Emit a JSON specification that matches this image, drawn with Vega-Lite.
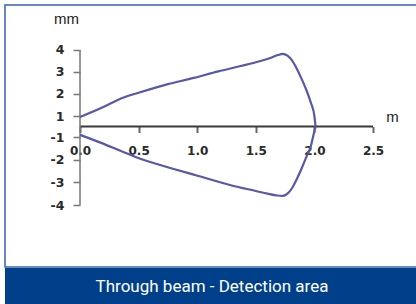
{
  "$schema": "https://vega.github.io/schema/vega-lite/v6.json",
  "background": "white",
  "padding": {"left": 4, "top": 4, "right": 0, "bottom": 0},
  "spacing": 0,
  "config": {"view": {"stroke": null}, "axis": {"grid": false}},
  "vconcat": [
    {
      "width": 414,
      "height": 262,
      "view": {"stroke": "#2f64b5", "strokeWidth": 1.5, "fill": "white"},
      "encoding": {
        "x": {
          "field": "x", "type": "quantitative",
          "scale": {"domain": [-0.64, 2.8925], "nice": false, "zero": false},
          "axis": {
            "title": "m", "orient": "bottom", "offset": -140.5, "domain": false,
            "values": [0, 0.5, 1, 1.5, 2, 2.5], "format": ".1f",
            "tickSize": 6, "tickWidth": 2, "tickColor": "#666",
            "labelPadding": 13, "labelFont": "DejaVu Sans", "labelFontWeight": "bold",
            "labelFontSize": 12, "labelColor": "#2a2a2a",
            "labelOverlap": false, "labelBound": false, "labelFlush": false,
            "titleX": 387, "titleY": -10.5, "titleAlign": "center", "titleBaseline": "middle",
            "titleFont": "Liberation Sans", "titleFontSize": 15, "titleFontWeight": "normal", "titleColor": "#222",
            "grid": false
          }
        },
        "y": {
          "field": "y", "type": "quantitative",
          "scale": {"type": "linear", "domain": [-6.735, -1, 1, 6.045], "range": [262, 132, 111, 0], "nice": false, "zero": false},
          "axis": {
            "title": "mm", "orient": "left", "offset": -75, "domain": false,
            "values": [-4, -3, -2, -1, 1, 2, 3, 4], "labelExpr": "'' + datum.value",
            "tickSize": 7, "tickWidth": 1.5, "tickColor": "#777",
            "labelPadding": 9, "labelFont": "DejaVu Sans", "labelFontWeight": "bold",
            "labelFontSize": 12.5, "labelColor": "#2a2a2a",
            "labelOverlap": false, "labelBound": false, "labelFlush": false,
            "titleAngle": 0, "titleX": -14, "titleY": 13, "titleAlign": "center", "titleBaseline": "middle",
            "titleFont": "Liberation Sans", "titleFontSize": 15, "titleFontWeight": "normal", "titleColor": "#222",
            "grid": false
          }
        }
      },
      "layer": [
        {
          "data": {"values": [{"x": 0, "x2": 2.5, "y": 0}]},
          "mark": {"type": "rule", "color": "#3a3a3a", "strokeWidth": 2},
          "encoding": {"x2": {"field": "x2"}}
        },
        {
          "data": {"values": [{"x": 0, "y": -4, "y2": 4}]},
          "mark": {"type": "rule", "color": "#777777", "strokeWidth": 1.5},
          "encoding": {"y2": {"field": "y2"}}
        },
        {
          "data": {"values": [
            {"side": "upper", "i": 0, "x": 0, "y": 0.9},
            {"side": "upper", "i": 1, "x": 0.18, "y": 1.36},
            {"side": "upper", "i": 2, "x": 0.35, "y": 1.8},
            {"side": "upper", "i": 3, "x": 0.52, "y": 2.09},
            {"side": "upper", "i": 4, "x": 0.75, "y": 2.45},
            {"side": "upper", "i": 5, "x": 0.97, "y": 2.73},
            {"side": "upper", "i": 6, "x": 1.18, "y": 3.03},
            {"side": "upper", "i": 7, "x": 1.37, "y": 3.27},
            {"side": "upper", "i": 8, "x": 1.54, "y": 3.5},
            {"side": "upper", "i": 9, "x": 1.63, "y": 3.65},
            {"side": "upper", "i": 10, "x": 1.69, "y": 3.77},
            {"side": "upper", "i": 11, "x": 1.73, "y": 3.82},
            {"side": "upper", "i": 12, "x": 1.77, "y": 3.74},
            {"side": "upper", "i": 13, "x": 1.81, "y": 3.52},
            {"side": "upper", "i": 14, "x": 1.85, "y": 3.15},
            {"side": "upper", "i": 15, "x": 1.89, "y": 2.7},
            {"side": "upper", "i": 16, "x": 1.93, "y": 2.2},
            {"side": "upper", "i": 17, "x": 1.97, "y": 1.6},
            {"side": "upper", "i": 18, "x": 2.0, "y": 1.0},
            {"side": "upper", "i": 19, "x": 2.01, "y": 0},
            {"side": "lower", "i": 0, "x": 0, "y": -0.8},
            {"side": "lower", "i": 1, "x": 0.18, "y": -1.26},
            {"side": "lower", "i": 2, "x": 0.35, "y": -1.62},
            {"side": "lower", "i": 3, "x": 0.52, "y": -1.97},
            {"side": "lower", "i": 4, "x": 0.8, "y": -2.41},
            {"side": "lower", "i": 5, "x": 1.01, "y": -2.72},
            {"side": "lower", "i": 6, "x": 1.31, "y": -3.16},
            {"side": "lower", "i": 7, "x": 1.5, "y": -3.38},
            {"side": "lower", "i": 8, "x": 1.6, "y": -3.5},
            {"side": "lower", "i": 9, "x": 1.68, "y": -3.58},
            {"side": "lower", "i": 10, "x": 1.73, "y": -3.6},
            {"side": "lower", "i": 11, "x": 1.77, "y": -3.5},
            {"side": "lower", "i": 12, "x": 1.81, "y": -3.25},
            {"side": "lower", "i": 13, "x": 1.85, "y": -2.85},
            {"side": "lower", "i": 14, "x": 1.89, "y": -2.4},
            {"side": "lower", "i": 15, "x": 1.93, "y": -1.9},
            {"side": "lower", "i": 16, "x": 1.97, "y": -1.4},
            {"side": "lower", "i": 17, "x": 1.99, "y": -0.9},
            {"side": "lower", "i": 18, "x": 2.01, "y": 0}
          ]},
          "mark": {"type": "line", "color": "#5658a8", "strokeWidth": 2.2, "strokeJoin": "round", "interpolate": "monotone"},
          "encoding": {"detail": {"field": "side"}, "order": {"field": "i", "type": "quantitative"}}
        }
      ]
    },
    {
      "width": 414,
      "height": 38,
      "view": {"fill": "#003f8a", "stroke": null},
      "data": {"values": [{"t": "Through beam - Detection area"}]},
      "mark": {"type": "text", "color": "white", "font": "Roboto", "fontSize": 17},
      "encoding": {"text": {"field": "t"}}
    }
  ]
}
